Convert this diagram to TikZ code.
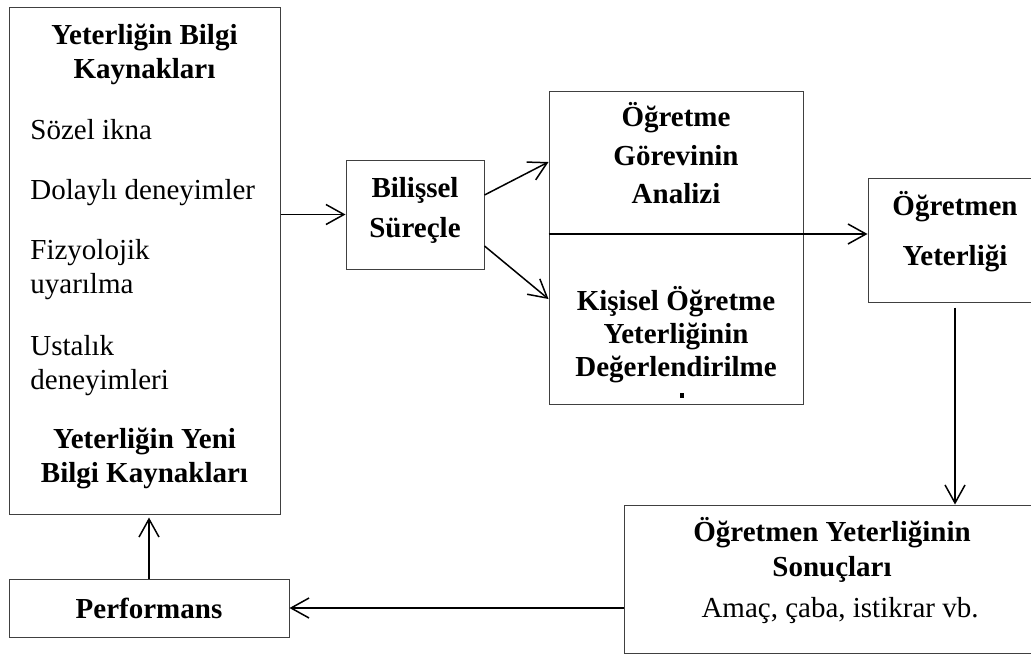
\documentclass[tikz,border=0pt]{standalone}
\usepackage{fontspec}
\setmainfont{Liberation Serif}
\usetikzlibrary{arrows.meta,positioning}
\newcommand{\yazi}{\fontsize{14.5}{17}\selectfont}

\begin{document}
\begin{tikzpicture}[x=0.5pt,y=-0.5pt,font=\yazi,
   kutu/.style={draw=black!75,line width=0.5pt,inner sep=0pt},
   baslik/.style={font=\yazi\bfseries,align=center,inner sep=0pt,anchor=north},
   liste/.style={align=left,inner sep=0pt,anchor=north west},
   ok/.style={->,line width=0.75pt,>={Straight Barb[length=9pt,width=10pt]}}]
   \path[use as bounding box,clip] (0,0) rectangle (1031,654);
   % kutular
   \node[kutu,minimum width=135.5pt,minimum height=253.5pt] (kaynak) at (144.5,260.5) {};
   \node[kutu,minimum width=69pt,minimum height=54.5pt] (bilis) at (415,214.5) {};
   \node[kutu,minimum width=127pt,minimum height=156.5pt] (gorev) at (676,247.5) {};
   \node[kutu,minimum width=87pt,minimum height=62pt] (ogr) at (955,240) {};
   \node[kutu,minimum width=208pt,minimum height=74pt] (sonuc) at (832,579) {};
   \node[kutu,minimum width=140pt,minimum height=29pt,font=\yazi\bfseries] (perf) at (149,608) {Performans};
   % yazilar
   \node[baslik] (kaynakbas) at (144.5,24) {Yeterliğin Bilgi\\Kaynakları};
   \node[liste] (liste) at (30,119) {Sözel ikna\\[13pt]Dolaylı deneyimler\\[13pt]Fizyolojik\\uyarılma\\[14pt]Ustalık\\deneyimleri};
   \node[baslik] (yenibas) at (144.5,428) {Yeterliğin Yeni\\Bilgi Kaynakları};
   \node[baslik] (bilisyazi) at (415,177) {Bilişsel\\[3pt]Süreçle};
   \node[baslik] (gorevyazi) at (676,102) {Öğretme\\[2.25pt]Görevinin\\[2.25pt]Analizi};
   \node[baslik] (kisiselyazi) at (676,286) {Kişisel Öğretme\\[-0.5pt]Yeterliğinin\\[-0.5pt]Değerlendirilme};
   \node[baslik] (ogryazi) at (955,191) {Öğretmen\\[8pt]Yeterliği};
   \node[baslik] (sonucbas) at (832,517) {Öğretmen Yeterliğinin\\[0.5pt]Sonuçları};
   \node[anchor=base,inner sep=0pt] (sonucyazi) at (840,617) {Amaç, çaba, istikrar vb.};
   \fill (680,393) rectangle (684,398);
   % oklar
   \path[ok] (kaynak.east |- bilis.west) edge (bilis.west)
      ([yshift=9.75pt]bilis.east) edge ([yshift=42.75pt]gorev.west)
      ([yshift=-15.75pt]bilis.east) edge ([yshift=-25.75pt]gorev.west)
      ([yshift=6.75pt]gorev.west) edge ([yshift=3pt]ogr.west)
      (ogr.south) edge[shorten <=2.5pt] (ogr.south |- sonuc.north)
      (sonuc.west |- perf.east) edge (perf.east)
      (perf.north) edge[shorten >=1.5pt] (perf.north |- kaynak.south);
\end{tikzpicture}
\end{document}
